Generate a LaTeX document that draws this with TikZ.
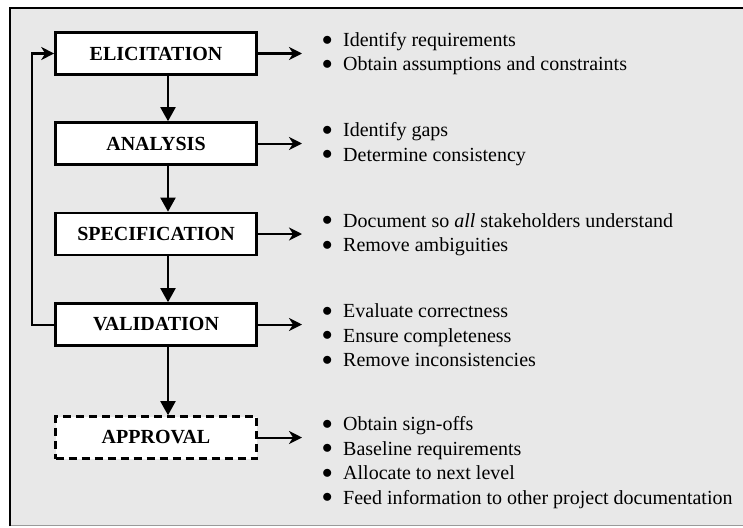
\documentclass[tikz,border=0pt]{standalone}
\usepackage{fontspec}
\setmainfont{Liberation Serif}
\usetikzlibrary{arrows.meta}
\definecolor{panel}{HTML}{E8E8E8}
\definecolor{panelrule}{HTML}{9A9A9A}
\newcommand{\bul}{\makebox[21pt][l]{\raisebox{1.5pt}{$\bullet$}}}
\tikzset{
  stage/.style={draw=black, line width=2.6pt, fill=white, minimum width=201pt,
    minimum height=42pt, inner sep=0pt, font=\fontsize{20}{24}\selectfont\bfseries},
  pending/.style={stage, dashed, dash pattern=on 8pt off 5pt},
  flow/.style={line width=2pt, -{Triangle[width=15pt,length=14pt]}},
  outarrow/.style={line width=2pt, -{Stealth[width=13pt,length=13pt,inset=4pt]}},
  notes/.style={anchor=base west, inner sep=0pt, font=\fontsize{20}{24.5}\selectfont}
}
\begin{document}
\begin{tikzpicture}[x=1pt, y=-1pt]
\useasboundingbox (0,0) rectangle (743,527);
% panel
\fill[panel] (10,8) rectangle (745,525);
\draw[panelrule, line width=1pt] (10,525) -- (745,525);
\draw[line width=2pt] (10,526) -- (10,8) -- (745,8);

% stages
\node[stage]   (elic)  at (156,53.5)  {ELICITATION};
\node[stage]   (anal)  at (156,143.5) {ANALYSIS};
\node[stage]   (spec)  at (156,234)   {SPECIFICATION};
\node[stage]   (valid) at (156,324.5) {VALIDATION};
\node[pending] (appr)  at (156,437.5) {APPROVAL};

% vertical flow
\coordinate (spine) at (168,0);
\coordinate (loopx) at (32,0);
\draw[flow] (elic.south -| spine)  -- (anal.north -| spine);
\draw[flow] (anal.south -| spine)  -- (spec.north -| spine);
\draw[flow] (spec.south -| spine)  -- (valid.north -| spine);
\draw[flow] (valid.south -| spine) -- (appr.north -| spine);

% iteration loop
\draw[outarrow] (valid.west) -- (valid.west -| loopx) |- (elic.west);

% activity lists
\coordinate (tips) at (302,0);
\coordinate (lists) at (322,0);
\foreach \s in {elic,anal,spec,valid,appr}
  \draw[outarrow] (\s.east) -- (\s.east -| tips);

\node[notes] (nelic) at ([yshift=7pt]elic.east -| lists) {\begin{tabular}[t]{@{}l@{}}
  \bul Identify requirements\\
  \bul Obtain assumptions and constraints\end{tabular}};
\node[notes] (nanal) at ([yshift=7pt]anal.east -| lists) {\begin{tabular}[t]{@{}l@{}}
  \bul Identify gaps\\
  \bul Determine consistency\end{tabular}};
\node[notes] (nspec) at ([yshift=7pt]spec.east -| lists) {\begin{tabular}[t]{@{}l@{}}
  \bul Document so \textit{all} stakeholders understand\\
  \bul Remove ambiguities\end{tabular}};
\node[notes] (nvalid) at ([yshift=7pt]valid.east -| lists) {\begin{tabular}[t]{@{}l@{}}
  \bul Evaluate correctness\\
  \bul Ensure completeness\\
  \bul Remove inconsistencies\end{tabular}};
\node[notes] (nappr) at ([yshift=7pt]appr.east -| lists) {\begin{tabular}[t]{@{}l@{}}
  \bul Obtain sign-offs\\
  \bul Baseline requirements\\
  \bul Allocate to next level\\
  \bul Feed information to other project documentation\end{tabular}};
\end{tikzpicture}
\end{document}
